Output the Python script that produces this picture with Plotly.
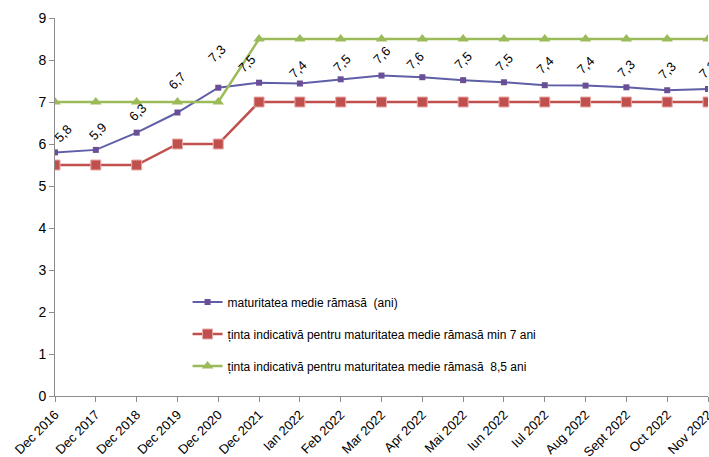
import plotly.graph_objects as go

categories = ["Dec 2016", "Dec 2017", "Dec 2018", "Dec 2019", "Dec 2020", "Dec 2021",
              "Ian 2022", "Feb 2022", "Mar 2022", "Apr 2022", "Mai 2022", "Iun 2022",
              "Iul 2022", "Aug 2022", "Sept 2022", "Oct 2022", "Nov 2022"]
maturitate = [5.80, 5.86, 6.27, 6.75, 7.34, 7.46, 7.44, 7.54, 7.63, 7.59, 7.52, 7.47,
              7.40, 7.39, 7.35, 7.28, 7.31]
maturitate_labels = ["5,8", "5,9", "6,3", "6,7", "7,3", "7,5", "7,4", "7,5", "7,6", "7,6",
                     "7,5", "7,5", "7,4", "7,4", "7,3", "7,3", "7,3"]
tinta_min7 = [5.5, 5.5, 5.5, 6, 6, 7, 7, 7, 7, 7, 7, 7, 7, 7, 7, 7, 7]
tinta_85 = [7, 7, 7, 7, 7, 8.5, 8.5, 8.5, 8.5, 8.5, 8.5, 8.5, 8.5, 8.5, 8.5, 8.5, 8.5]
y_ticks = [0, 1, 2, 3, 4, 5, 6, 7, 8, 9]

names = ["maturitatea medie rămasă  (ani)",
         "ținta indicativă pentru maturitatea medie rămasă min 7 ani",
         "ținta indicativă pentru maturitatea medie rămasă  8,5 ani"]

# label offsets (pixels) for the rotated data labels
label_dx = [8, 2, 1, 0, -1, -12, -2, 1, 0, -7, 0, 0, 0, 0, 0, 0, 0]
label_dy = [19, 18, 20, 32, 34, 19, 14, 16, 20, 17, 20, 20, 20, 20, 19, 20, 19]

FONT = "Liberation Sans, Arial, sans-serif"
W, H = 709, 457

fig = go.Figure()
fig.add_trace(go.Scatter(
    x=categories, y=maturitate, name=names[0], mode="lines+markers",
    line=dict(color="#5E5FA6", width=2),
    marker=dict(symbol="square", size=6, color="#6B4F96"),
    legendgroup="a"))
fig.add_trace(go.Scatter(
    x=categories, y=tinta_min7, name=names[1], mode="lines+markers",
    line=dict(color="#C0504D", width=2.5),
    marker=dict(symbol="square", size=10, color="#C0504D", line=dict(color="#E8A8A6", width=1)),
    legendgroup="b"))
fig.add_trace(go.Scatter(
    x=categories, y=tinta_85, name=names[2], mode="lines+markers",
    line=dict(color="#9BBB59", width=2.5),
    marker=dict(symbol="triangle-up", size=10, color="#9BBB59"),
    legendgroup="c"))

for i, (c, v, t) in enumerate(zip(categories, maturitate, maturitate_labels)):
    fig.add_annotation(x=c, y=v, text=t, showarrow=False, textangle=-45,
                       xshift=label_dx[i], yshift=label_dy[i],
                       font=dict(family=FONT, size=13, color="#000000"))

fig.update_layout(
    width=W, height=H, autosize=False,
    margin=dict(l=55, r=1, t=18, b=61, autoexpand=False),
    paper_bgcolor="white", plot_bgcolor="white",
    font=dict(family=FONT, size=13, color="#000000"),
    showlegend=True,
    legend=dict(x=0.203, y=0.287, xanchor="left", yanchor="top",
                font=dict(family=FONT, size=12, color="#000000"),
                bgcolor="rgba(0,0,0,0)", tracegroupgap=13, itemwidth=30),
)
fig.update_xaxes(
    type="category", range=[0, len(categories) - 1], tickangle=-45, automargin=False,
    showgrid=False, zeroline=False, showline=True, linecolor="#8C8C8C", linewidth=1,
    ticks="outside", ticklen=5, tickcolor="#8C8C8C",
    tickfont=dict(family=FONT, size=13, color="#000000"))
fig.update_yaxes(
    range=[0, 9], tickvals=y_ticks, showgrid=False, zeroline=False, automargin=False,
    showline=True, linecolor="#8C8C8C", linewidth=1,
    ticks="outside", ticklen=5, tickcolor="#8C8C8C",
    tickfont=dict(family=FONT, size=14, color="#000000"))

post = (
    "document.documentElement.style.margin='0';"
    "document.body.style.margin='0';document.body.style.overflow='hidden';"
    "var gd=document.getElementById('{plot_id}');"
    "gd.style.width='%dpx';gd.style.height='%dpx';"
    "Plotly.relayout(gd,{width:%d,height:%d,autosize:false});" % (W, H, W, H)
)

fig.write_html("out.html", config={"responsive": False, "displayModeBar": False},
               post_script=post)
